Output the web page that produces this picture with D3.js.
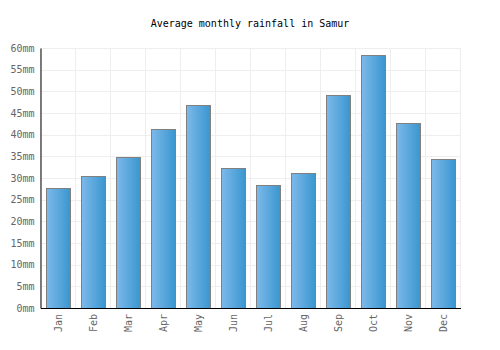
<!DOCTYPE html>
<html>
<head>
<meta charset="utf-8">
<script src="https://cdn.jsdelivr.net/npm/d3@7"></script>
<style>
  body { margin: 0; background: #fff; }
  text { font-family: "DejaVu Sans Mono", monospace; }
</style>
</head>
<body>
<div id="graph"></div>
<script>
const months = ['Jan', 'Feb', 'Mar', 'Apr', 'May', 'Jun', 'Jul', 'Aug', 'Sep', 'Oct', 'Nov', 'Dec']
const rainfall = [27.8, 30.4, 34.8, 41.2, 46.8, 32.2, 28.5, 31.1, 49.1, 58.5, 42.8, 34.5]
const yTicks = [0, 5, 10, 15, 20, 25, 30, 35, 40, 45, 50, 55, 60]

const width = 500
const height = 350
const margin = {left: 40.5, right: 39.5, top: 48, bottom: 42}

const svg = d3.select('#graph')
  .append('svg')
  .attr('width', width)
  .attr('height', height)

const grad = svg.append('defs').append('linearGradient')
  .attr('id', 'barGrad')
  .attr('x1', '0%').attr('x2', '100%').attr('y1', '0%').attr('y2', '0%')
grad.append('stop').attr('offset', '0%').attr('stop-color', '#7db9ea')
grad.append('stop').attr('offset', '100%').attr('stop-color', '#3996cf')

const xScale = d3.scaleBand().domain(months)
  .range([margin.left, width - margin.right])
  .paddingInner(0.32).paddingOuter(0.16)
const yScale = d3.scaleLinear().domain([0, 60])
  .range([height - margin.bottom, margin.top])

// grid
const step = xScale.step()
const bounds = d3.range(months.length + 1).map(i => margin.left + i * step)
svg.append('g').selectAll('line').data(bounds).join('line')
  .attr('x1', d => d).attr('x2', d => d)
  .attr('y1', margin.top).attr('y2', height - margin.bottom)
  .attr('stroke', '#eeeeee')
svg.append('g').selectAll('line').data(yTicks).join('line')
  .attr('x1', margin.left).attr('x2', width - margin.right)
  .attr('y1', d => Math.round(yScale(d)) + 0.5).attr('y2', d => Math.round(yScale(d)) + 0.5)
  .attr('stroke', '#eeeeee')

// bars
svg.append('g').selectAll('rect').data(rainfall).join('rect')
  .attr('x', (d, i) => Math.round(xScale(months[i])) + 0.5)
  .attr('y', d => Math.round(yScale(d)) + 0.5)
  .attr('width', Math.round(xScale.bandwidth()))
  .attr('height', d => Math.round(yScale(0)) - Math.round(yScale(d)))
  .attr('fill', 'url(#barGrad)')
  .attr('stroke', '#808080')
  .attr('stroke-width', 1)

// axes
const yAxis = svg.append('g')
  .attr('transform', `translate(${margin.left},0)`)
  .call(d3.axisLeft(yScale).tickValues(yTicks).tickFormat(d => d + 'mm').tickSize(0).tickPadding(6))
yAxis.select('.domain').attr('stroke', '#000')
yAxis.selectAll('text').attr('fill', '#666').style('font-size', '10px')
  .style('font-family', '"DejaVu Sans Mono", monospace')

const xAxis = svg.append('g')
  .attr('transform', `translate(0,${height - margin.bottom})`)
  .call(d3.axisBottom(xScale).tickSize(0).tickPadding(0))
xAxis.select('.domain').attr('stroke', '#000')
xAxis.selectAll('text')
  .attr('fill', '#666').style('font-size', '10px')
  .style('font-family', '"DejaVu Sans Mono", monospace')
  .attr('text-anchor', 'end')
  .attr('dy', '0.35em')
  .attr('transform', 'translate(0,6) rotate(-90)')
  .attr('x', 0).attr('y', 0)

svg.append('text')
  .attr('x', width / 2).attr('y', 27)
  .attr('text-anchor', 'middle')
  .style('font-size', '10px')
  .attr('fill', '#000')
  .text('Average monthly rainfall in Samur')
</script>
</body>
</html>
